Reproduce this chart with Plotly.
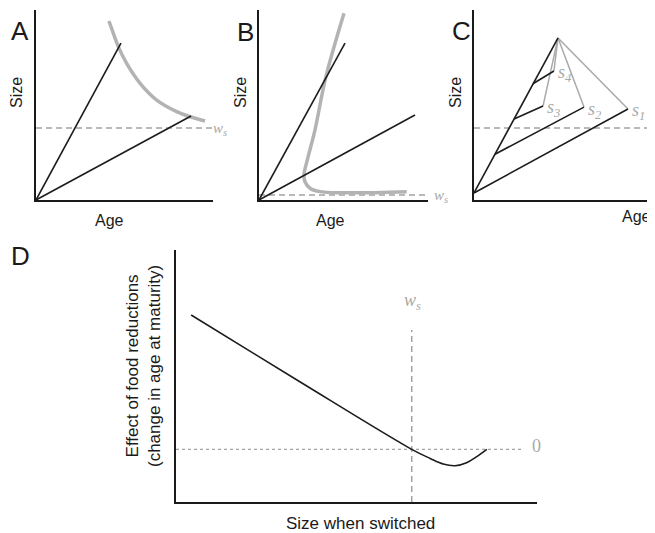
import plotly.graph_objects as go

# page is 655x533; the browser body has an 8px margin, so the figure is 647x525
PAGE_OFF = 8
W, H = 647, 525

# ---------------- data (schematic values) ----------------
# Panel A
A_fast_age = [0, 4.8]
A_fast_size = [0, 8.26]
A_slow_age = [0, 8.76]
A_slow_size = [0, 4.42]
A_curve_age = [4.12, 4.37, 4.65, 5.12, 5.88, 6.82, 7.95, 8.70, 9.55]
A_curve_size = [9.42, 8.77, 8.07, 7.19, 6.14, 5.26, 4.65, 4.38, 4.16]
A_ws = 3.79

# Panel B
B_fast_age = [0, 5.09]
B_fast_size = [0, 8.26]
B_slow_age = [0, 9.23]
B_slow_size = [0, 4.47]
B_curve_age = [5.03, 3.96, 3.31, 2.86, 2.66, 2.72, 3.02, 3.61, 8.74]
B_curve_size = [9.83, 6.49, 3.68, 2.11, 1.32, 0.96, 0.62, 0.44, 0.44]
B_ws = 0.26

# Panel C
C_main_age = [0, 4.72]
C_main_size = [0.37, 8.53]
C_branch_start_age = [0, 1.18, 2.25, 3.31]
C_branch_start_size = [0.37, 2.41, 4.26, 6.12]
C_switch_age = [8.65, 6.18, 3.88, 4.49]
C_switch_size = [4.79, 4.89, 4.95, 6.79]
C_switch_labels = ["1", "2", "3", "4"]
C_ws = 3.79

# Panel D
D_size = [0.42, 3.43, 6.53, 7.04, 7.40, 7.73, 8.05, 8.33, 8.61]
D_effect = [7.42, 4.77, 2.09, 1.73, 1.51, 1.44, 1.56, 1.80, 2.09]
D_zero = 2.09
D_ws = 6.53
D_ws_top = 6.83

# ---------------- styling ----------------
BLACK = "#1c1c1c"
GRAY_THICK = "#b3b3b3"
GRAY_THIN = "#a9a9a9"
GRAY_DASH = "#a3a3a3"
SANS = "Liberation Sans, Arial, Helvetica, sans-serif"
SERIF = "Liberation Serif, Times New Roman, serif"


def fx(p):
    return (p - PAGE_OFF) / W


def fy(p):
    return 1 - (p - PAGE_OFF) / H


fig = go.Figure()

# axes definitions (page-pixel boxes -> paper domains)
panels = {
    "A": dict(x0=36, x1=213, y0=10, y1=200),
    "B": dict(x0=259, x1=428, y0=10, y1=200),
    "C": dict(x0=474, x1=652, y0=10, y1=200),
    "D": dict(x0=176, x1=537, y0=250, y1=502),
}

layout_axes = {}
for i, (k, p) in enumerate(panels.items()):
    n = "" if i == 0 else str(i + 1)
    common = dict(range=[0, 10], showgrid=False, zeroline=False, showticklabels=False,
                  ticks="", showline=True, linecolor="#1a1a1a", linewidth=2,
                  fixedrange=True)
    layout_axes["xaxis" + n] = dict(domain=[fx(p["x0"]), fx(p["x1"])], anchor="y" + n, **common)
    layout_axes["yaxis" + n] = dict(domain=[fy(p["y1"]), fy(p["y0"])], anchor="x" + n, **common)


def line(x, y, xa, ya, color=BLACK, width=1.6, dash="solid", shape="linear"):
    fig.add_trace(go.Scatter(x=x, y=y, xaxis=xa, yaxis=ya, mode="lines",
                             line=dict(color=color, width=width, dash=dash, shape=shape),
                             hoverinfo="skip", showlegend=False))


# Panel A
line([0, 10], [A_ws, A_ws], "x", "y", GRAY_DASH, 1.5, "6px,4px")
line(A_curve_age, A_curve_size, "x", "y", GRAY_THICK, 3.5, shape="spline")
line(A_fast_age, A_fast_size, "x", "y")
line(A_slow_age, A_slow_size, "x", "y")

# Panel B
line([0, 10], [B_ws, B_ws], "x2", "y2", GRAY_DASH, 1.5, "6px,4px")
line(B_curve_age, B_curve_size, "x2", "y2", GRAY_THICK, 3.5, shape="spline")
line(B_fast_age, B_fast_size, "x2", "y2")
line(B_slow_age, B_slow_size, "x2", "y2")

# Panel C
line([0, 10], [C_ws, C_ws], "x3", "y3", GRAY_DASH, 1.5, "6px,4px")
for sa, ss in zip(C_switch_age, C_switch_size):
    line([C_main_age[1], sa], [C_main_size[1], ss], "x3", "y3", GRAY_THIN, 1.5)
line(C_main_age, C_main_size, "x3", "y3")
for ba, bs, sa, ss in zip(C_branch_start_age, C_branch_start_size, C_switch_age, C_switch_size):
    line([ba, sa], [bs, ss], "x3", "y3")

# Panel D
line([0, 9.62], [D_zero, D_zero], "x4", "y4", GRAY_DASH, 1.2, "dot")
line([D_ws, D_ws], [0, D_ws_top], "x4", "y4", GRAY_DASH, 1.5, "6px,4px")
line(D_size, D_effect, "x4", "y4", BLACK, 1.6, shape="spline")

ann = []


def text(t, x, y, size=16, family=SANS, color="#1a1a1a", angle=0, xanchor="center",
         yanchor="middle", xref="paper", yref="paper", xshift=0, yshift=0):
    ann.append(dict(text=t, x=x, y=y, xref=xref, yref=yref, showarrow=False,
                    font=dict(size=size, family=family, color=color), textangle=angle,
                    xanchor=xanchor, yanchor=yanchor, xshift=xshift, yshift=yshift))


# panel letters
for lab, (x, y) in {"A": (19.5, 31), "B": (245, 31.5), "C": (461, 31), "D": (20, 256)}.items():
    text(lab, fx(x), fy(y), size=26)

# axis titles
for x in (17, 241, 456):
    text("Size", fx(x), fy(93), size=16, angle=-90)
for x, y in ((110, 220), (330, 220), (636, 217)):
    text("Age", fx(x), fy(y), size=16)
text("Size when switched", fx(360), fy(523), size=17)
text("Effect of food reductions<br>(change in age at maturity)", fx(143), fy(366),
     size=17, angle=-90)

# w_s labels (threshold size)
ws = "<i>w<sub>s</sub></i>"
text(ws, fx(211), fy(129), size=15, family=SERIF, color=GRAY_THIN, xanchor="left")
text(ws, fx(432), fy(196), size=15, family=SERIF, color=GRAY_THIN, xanchor="left")
text(ws, fx(652), fy(129), size=15, family=SERIF, color=GRAY_THIN, xanchor="left")
text(ws, fx(412), fy(301), size=18, family=SERIF, color=GRAY_THIN)
text("0", fx(530), fy(446), size=18, family=SERIF, color=GRAY_THIN, xanchor="left")

# switch labels in panel C
for sa, ss, lab in zip(C_switch_age, C_switch_size, C_switch_labels):
    text("<i>s<sub>%s</sub></i>" % lab, sa, ss, size=18, family=SERIF, color=GRAY_THIN,
         xanchor="left", xref="x3", yref="y3", xshift=2, yshift=-3)

fig.update_layout(width=W, height=H, margin=dict(l=0, r=0, t=0, b=0),
                  paper_bgcolor="white", plot_bgcolor="white", annotations=ann,
                  showlegend=False, **layout_axes)

fig.write_html("out.html", config={"displayModeBar": False})
